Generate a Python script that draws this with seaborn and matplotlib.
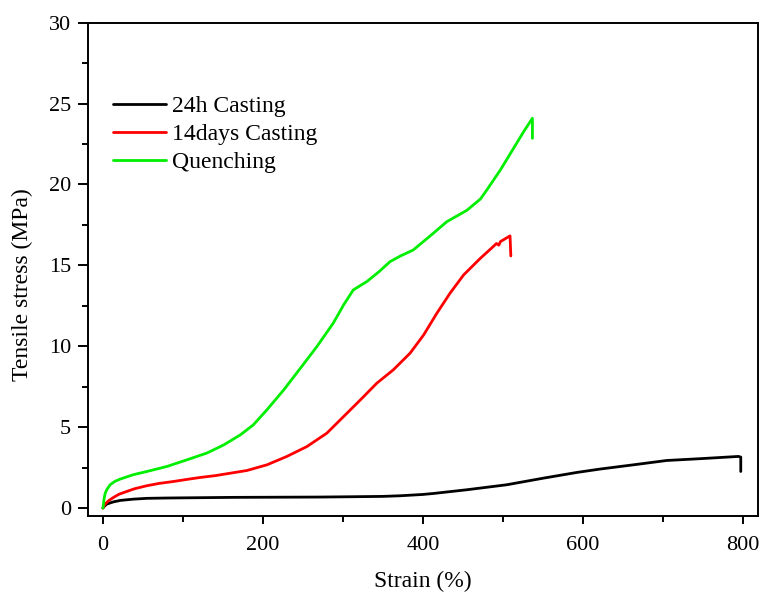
import numpy as np
import pandas as pd
import matplotlib
matplotlib.use("Agg")
import matplotlib.pyplot as plt
from matplotlib.ticker import MultipleLocator
import seaborn as sns

# ---- data ----
strain_24h = [0, 2, 5, 13, 21.6, 38, 55, 80, 121.6, 163, 220, 272, 313, 350, 372, 400,
              413, 455, 505, 551, 592.5, 621.6, 663, 705, 746.6, 794.5, 797.5, 797.5]
stress_24h = [0.0, 0.12, 0.25, 0.38, 0.47, 0.55, 0.6, 0.62, 0.64, 0.66, 0.67, 0.68, 0.7,
              0.72, 0.76, 0.84, 0.9, 1.13, 1.44, 1.85, 2.2, 2.41, 2.67, 2.94, 3.05, 3.19,
              3.15, 2.26]

strain_14d = [0, 1, 2.9, 7, 13, 20, 30, 40, 55, 70, 88, 105, 121.6, 140, 155, 180, 205,
              230, 255, 280, 301, 322, 342.5, 363, 384, 401, 417.5, 434, 451, 472, 480,
              488, 492, 495, 497, 509, 510]
stress_14d = [0.0, 0.1, 0.25, 0.45, 0.65, 0.85, 1.03, 1.2, 1.38, 1.52, 1.64, 1.77, 1.89,
              2.0, 2.12, 2.32, 2.67, 3.19, 3.8, 4.63, 5.66, 6.69, 7.72, 8.54, 9.57, 10.7,
              12.04, 13.28, 14.41, 15.44, 15.8, 16.16, 16.35, 16.25, 16.47, 16.82, 15.58]

strain_q = [0, 0.8, 1.5, 2.9, 5, 9, 15, 21.6, 30, 38, 55, 80, 105, 130, 151, 172, 188,
            205, 226, 247, 267.5, 288, 301, 313, 330, 345, 359, 372, 388, 413, 430, 455,
            472, 480, 497, 513, 526, 537, 537]
stress_q = [0.0, 0.3, 0.6, 0.93, 1.15, 1.44, 1.65, 1.79, 1.93, 2.06, 2.26, 2.57, 2.98,
            3.4, 3.9, 4.53, 5.14, 6.07, 7.3, 8.65, 9.98, 11.43, 12.56, 13.48, 14.0, 14.6,
            15.23, 15.58, 15.95, 16.98, 17.7, 18.4, 19.1, 19.66, 20.9, 22.2, 23.26, 24.09,
            22.85]

labels = ["24h Casting", "14days Casting", "Quenching"]
colors = ["#000000", "#ff0000", "#00ee00"]

frames = []
for lab, xs, ys in zip(labels, [strain_24h, strain_14d, strain_q],
                       [stress_24h, stress_14d, stress_q]):
    frames.append(pd.DataFrame({"Strain": xs, "Stress": ys, "Sample": lab}))
df = pd.concat(frames, ignore_index=True)

sns.set_style("ticks")
plt.rcParams["font.family"] = ["Liberation Serif", "DejaVu Serif"]
plt.rcParams["text.color"] = "black"
plt.rcParams["axes.labelcolor"] = "black"
plt.rcParams["xtick.color"] = "black"
plt.rcParams["ytick.color"] = "black"

fig = plt.figure(figsize=(7.63, 5.96), dpi=100)
ax = fig.add_axes([0.115, 0.134, 0.8784, 0.828])

sns.lineplot(data=df, x="Strain", y="Stress", hue="Sample", hue_order=labels,
             palette=dict(zip(labels, colors)), sort=False, estimator=None,
             units="Sample", linewidth=2.0, ax=ax)

ax.set_xlim(-19, 819)
ax.set_ylim(-0.5, 30)
ax.xaxis.set_major_locator(MultipleLocator(200))
ax.xaxis.set_minor_locator(MultipleLocator(100))
ax.yaxis.set_major_locator(MultipleLocator(5))
ax.yaxis.set_minor_locator(MultipleLocator(2.5))

for s in ax.spines.values():
    s.set_visible(True)
    s.set_linewidth(1.4)
    s.set_color("black")

ax.tick_params(axis="both", which="both", direction="out", colors="black",
               labelcolor="black", labelsize=16, width=1.4)
ax.tick_params(axis="y", which="major", length=7, pad=5)
ax.tick_params(axis="y", which="minor", length=4)
ax.tick_params(axis="x", which="major", length=6, pad=8)
ax.tick_params(axis="x", which="minor", length=4)

ax.set_xlabel("Strain (%)", fontsize=17, labelpad=12, color="black")
ax.set_ylabel("Tensile stress (MPa)", fontsize=17, color="black")
ax.yaxis.set_label_coords(-0.082, 0.47)

leg = ax.legend(loc="upper left", bbox_to_anchor=(0.037, 0.852), frameon=False,
                fontsize=17, handlelength=2.25, handletextpad=0.28,
                labelspacing=0.28, borderaxespad=0, borderpad=0)
for line in leg.get_lines():
    line.set_linewidth(2.0)
for t in leg.get_texts():
    t.set_color("black")

fig.savefig("out.png", dpi=100)
